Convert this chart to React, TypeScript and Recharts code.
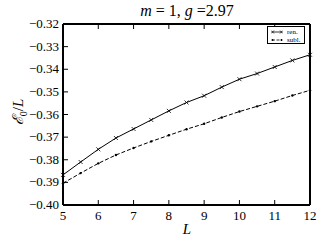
import { LineChart, Line, XAxis, YAxis } from 'recharts';

const L = [5, 5.5, 6, 6.5, 7, 7.5, 8, 8.5, 9, 9.5, 10, 10.5, 11, 11.5, 12];
const ren = [
  -0.3867, -0.381, -0.3754, -0.3704, -0.3664, -0.3624, -0.3584, -0.3547, -0.3517,
  -0.3479, -0.3444, -0.3419, -0.339, -0.3361, -0.3336,
];
const subl = [
  -0.3904, -0.3859, -0.3816, -0.3779, -0.3748, -0.3719, -0.3692, -0.3665, -0.3641,
  -0.3613, -0.3587, -0.3564, -0.3541, -0.3516, -0.3493,
];
const xTicks = [5, 6, 7, 8, 9, 10, 11, 12];
const yTicks = [-0.4, -0.39, -0.38, -0.37, -0.36, -0.35, -0.34, -0.33, -0.32];

const data = L.map((l, i) => ({ L: l, ren: ren[i], subl: subl[i] }));

const FONT = "'Liberation Serif', 'Times New Roman', Times, 'DejaVu Serif', serif";
const TICK = 5;

const fmtY = (v: number) => (v < 0 ? '\u2212' : '') + Math.abs(v).toFixed(2);

const LeftTick = (p: any) => (
  <g>
    <line x1={p.x + 4} x2={p.x + 4 + TICK} y1={p.y} y2={p.y} stroke="#000" />
    <text x={p.x} y={p.y} dy={4} textAnchor="end" style={{ fontFamily: FONT, fontSize: 13 }} fill="#000">
      {fmtY(p.payload.value)}
    </text>
  </g>
);

const RightTick = (p: any) => (
  <line x1={p.x} x2={p.x - TICK} y1={p.y} y2={p.y} stroke="#000" />
);

const BottomTick = (p: any) => (
  <g>
    <line x1={p.x} x2={p.x} y1={p.y - 4} y2={p.y - 4 - TICK} stroke="#000" />
    <text x={p.x} y={p.y} dy={11} textAnchor="middle" style={{ fontFamily: FONT, fontSize: 13 }} fill="#000">
      {p.payload.value}
    </text>
  </g>
);

const TopTick = (p: any) => (
  <line x1={p.x} x2={p.x} y1={p.y} y2={p.y + TICK} stroke="#000" />
);

const CrossDot = (p: any) => {
  const s = 2;
  return (
    <path
      key={`c${p.index}`}
      d={`M${p.cx - s},${p.cy - s}L${p.cx + s},${p.cy + s}M${p.cx - s},${p.cy + s}L${p.cx + s},${p.cy - s}`}
      stroke="#000"
      strokeWidth={0.8}
      fill="none"
    />
  );
};

const SmallDot = (p: any) => (
  <circle key={`d${p.index}`} cx={p.cx} cy={p.cy} r={1.2} fill="#000" />
);

export default function App() {
  return (
    <div style={{ position: 'absolute', left: 0, top: 0, width: 320, height: 240, background: '#fff' }}>
      <div
        style={{
          position: 'absolute',
          left: 0,
          width: 374,
          top: 1,
          textAlign: 'center',
          fontFamily: FONT,
          fontSize: 16,
          lineHeight: '20px',
        }}
      >
        <i>m</i> = 1, <i>g</i> =2.97
      </div>
      <div
        style={{
          position: 'absolute',
          left: 18,
          top: 112,
          transform: 'translate(-50%, -50%) rotate(-90deg)',
          fontFamily: FONT,
          fontSize: 15,
          whiteSpace: 'nowrap',
        }}
      >
        <i>ℰ</i>
        <sub style={{ fontSize: 10 }}>0</sub>/<i>L</i>
      </div>
      <div
        style={{
          position: 'absolute',
          left: 187,
          top: 229,
          transform: 'translate(-50%, -50%)',
          fontFamily: FONT,
          fontSize: 15,
          fontStyle: 'italic',
        }}
      >
        L
      </div>
      <LineChart width={320} height={240} data={data} margin={{ top: 23, right: 9, bottom: 0, left: 0 }}>
        <XAxis
          dataKey="L"
          type="number"
          domain={[5, 12]}
          ticks={xTicks}
          interval={0}
          tickSize={0}
          tickMargin={4}
          height={35}
          axisLine={{ stroke: '#000', strokeWidth: 2 }}
          tick={BottomTick}
        />
        <XAxis
          xAxisId="top"
          orientation="top"
          dataKey="L"
          type="number"
          domain={[5, 12]}
          ticks={xTicks}
          interval={0}
          tickSize={0}
          tickMargin={0}
          height={1}
          axisLine={{ stroke: '#000', strokeWidth: 2 }}
          tick={TopTick}
        />
        <YAxis
          type="number"
          domain={[-0.4, -0.32]}
          ticks={yTicks}
          interval={0}
          tickSize={0}
          tickMargin={4}
          width={63}
          axisLine={{ stroke: '#000', strokeWidth: 2 }}
          tick={LeftTick}
        />
        <YAxis
          yAxisId="right"
          orientation="right"
          type="number"
          domain={[-0.4, -0.32]}
          ticks={yTicks}
          interval={0}
          tickSize={0}
          tickMargin={0}
          width={1}
          axisLine={{ stroke: '#000', strokeWidth: 2 }}
          tick={RightTick}
        />
        <Line
          dataKey="ren"
          stroke="#000"
          strokeWidth={1}
          dot={CrossDot}
          isAnimationActive={false}
        />
        <Line
          dataKey="subl"
          stroke="#000"
          strokeWidth={1}
          strokeDasharray="4 2"
          dot={SmallDot}
          isAnimationActive={false}
        />
      </LineChart>
      <div
        style={{
          position: 'absolute',
          left: 267,
          top: 26,
          width: 38,
          height: 18,
          border: '1px solid #000',
          background: '#fff',
          fontFamily: FONT,
          fontSize: 7,
          lineHeight: '8px',
          padding: '1px 0 0 3px',
          boxSizing: 'border-box',
        }}
      >
        <div style={{ display: 'flex', alignItems: 'center' }}>
          <svg width={12} height={8}>
            <line x1={1} x2={11} y1={4} y2={4} stroke="#000" strokeWidth={0.8} />
            <path d="M0,2.5L3,5.5M0,5.5L3,2.5M9,2.5L12,5.5M9,5.5L12,2.5" stroke="#000" strokeWidth={0.7} />
          </svg>
          <span style={{ marginLeft: 4 }}>ren.</span>
        </div>
        <div style={{ display: 'flex', alignItems: 'center' }}>
          <svg width={12} height={8}>
            <line x1={1} x2={11} y1={4} y2={4} stroke="#000" strokeWidth={0.8} strokeDasharray="3 1.5" />
            <circle cx={1.5} cy={4} r={1} fill="#000" />
            <circle cx={10.5} cy={4} r={1} fill="#000" />
          </svg>
          <span style={{ marginLeft: 4 }}>subl.</span>
        </div>
      </div>
    </div>
  );
}
